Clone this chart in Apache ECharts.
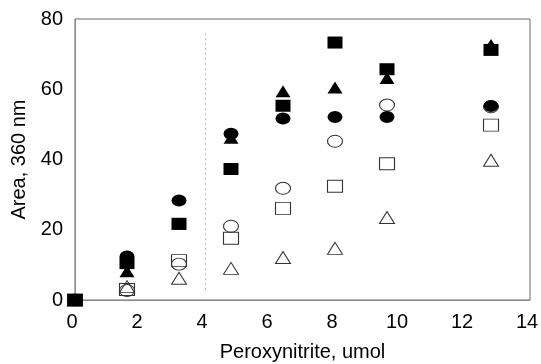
<!DOCTYPE html>
<html>
<head>
<meta charset="utf-8">
<script src="https://cdn.jsdelivr.net/npm/echarts@6/dist/echarts.min.js"></script>
<style>
  html, body { margin: 0; padding: 0; background: #fff; }
  #chart { width: 541px; height: 364px; }
</style>
</head>
<body>
<div id="chart"></div>
<script>
// Peroxynitrite dose (umol) on the x axis
const doses = [0, 1.6, 3.2, 4.8, 6.4, 8.0, 9.6, 12.8];

// Peak area at 360 nm for each sample series
const filledSquare   = [0, 10.5, 21.7, 37.3, 55.3, 73.3, 65.7, 71.2];
const filledTriangle = [0, 8.2, 21.7, 46.2, 59.4, 60.5, 63.2, 72.6];
const filledCircle   = [0, 12.4, 28.3, 47.3, 51.7, 52.1, 52.1, 55.2];
const openCircle     = [0, 2.7, 10.2, 21.0, 31.8, 45.2, 55.5, 55.0];
const openSquare     = [0, 3.0, 11.2, 17.6, 26.1, 32.4, 38.8, 49.8];
const openTriangle   = [0, 3.8, 6.2, 9.0, 12.1, 14.7, 23.5, 39.8];

const xTicks = [0, 2, 4, 6, 8, 10, 12, 14];
const yTicks = [0, 20, 40, 60, 80];

const pair = vals => doses.map((d, i) => [d, vals[i]]);
const FONT = 'Liberation Sans, Arial, sans-serif';
const FS = 20;
const SIZE = [15, 12];

function openSeries(name, symbol, vals) {
  return {
    name, type: 'scatter', symbol, symbolSize: SIZE, data: pair(vals),
    itemStyle: { color: 'rgba(255,255,255,0)', borderColor: '#333', borderWidth: 1, opacity: 1 },
    z: 2
  };
}
function filledSeries(name, symbol, vals, z) {
  return {
    name, type: 'scatter', symbol, symbolSize: SIZE, data: pair(vals),
    itemStyle: { color: '#000', opacity: 1 }, z
  };
}

const chart = echarts.init(document.getElementById('chart'), null, { renderer: 'canvas' });
chart.setOption({
  animation: false,
  backgroundColor: '#fff',
  grid: {
    left: 75, right: 11, top: 19, bottom: 64,
    containLabel: false, outerBoundsMode: 'none',
    show: true, borderColor: '#6a6a6a', borderWidth: 1, backgroundColor: 'transparent'
  },
  xAxis: {
    type: 'value', min: xTicks[0], max: xTicks[xTicks.length - 1], interval: 2,
    name: 'Peroxynitrite, umol', nameLocation: 'middle', nameGap: 42,
    nameTextStyle: { fontFamily: FONT, fontSize: FS, color: '#000' },
    axisLine: { show: true, lineStyle: { color: '#8a8a8a', width: 1 } },
    axisTick: { show: false },
    axisLabel: { fontFamily: FONT, fontSize: FS, color: '#000', margin: 12, padding: [0, 6, 0, 0] },
    splitLine: { show: false }
  },
  yAxis: {
    type: 'value', min: yTicks[0], max: yTicks[yTicks.length - 1], interval: 20,
    name: 'Area, 360 nm', nameLocation: 'middle', nameGap: 45, nameRotate: 90,
    nameTextStyle: { fontFamily: FONT, fontSize: FS, color: '#000' },
    axisLine: { show: true, lineStyle: { color: '#8a8a8a', width: 1 } },
    axisTick: { show: false },
    axisLabel: { fontFamily: FONT, fontSize: FS, color: '#000', margin: 12 },
    splitLine: { show: false }
  },
  series: [
    Object.assign(openSeries('open triangle', 'triangle', openTriangle), {
      markLine: {
        silent: true, symbol: 'none', label: { show: false },
        lineStyle: { color: '#888', type: [1, 4], width: 1 },
        data: [[{ coord: [4, 3] }, { coord: [4, 77] }]]
      }
    }),
    openSeries('open square', 'rect', openSquare),
    openSeries('open circle', 'circle', openCircle),
    filledSeries('filled triangle', 'triangle', filledTriangle, 3),
    filledSeries('filled circle', 'circle', filledCircle, 4),
    filledSeries('filled square', 'rect', filledSquare, 5)
  ]
});
</script>
</body>
</html>
